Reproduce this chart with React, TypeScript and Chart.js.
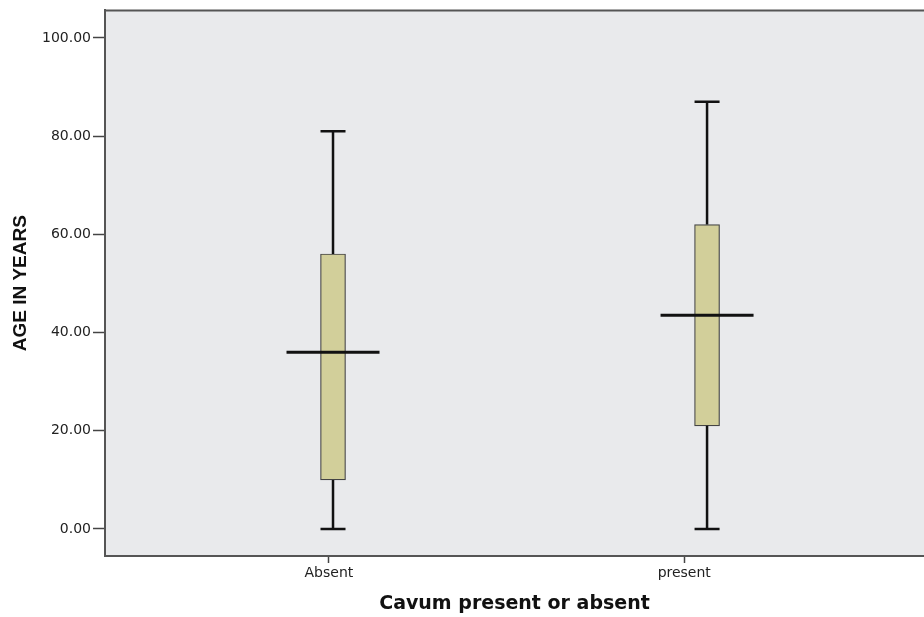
import React, { useEffect, useRef } from "react";
import { Chart, registerables } from "chart.js";

Chart.register(...registerables);

const categories = ["Absent", "present"];
const minVals = [0, 0];
const q1Vals = [10, 21];
const medianVals = [36, 43.5];
const q3Vals = [56, 62];
const maxVals = [81, 87];
const yTickValues = [0, 20, 40, 60, 80, 100];
const categoryTickValues = [0.989, 1.939];

const boxPlugin = {
  id: "boxExtras",
  beforeDraw(chart: any) {
    const { ctx, chartArea } = chart;
    ctx.save();
    ctx.fillStyle = "#e9eaec";
    ctx.fillRect(chartArea.left, chartArea.top, chartArea.right - chartArea.left, chartArea.bottom - chartArea.top);
    ctx.strokeStyle = "#555";
    ctx.lineWidth = 2;
    ctx.beginPath();
    ctx.moveTo(chartArea.left, chartArea.top);
    ctx.lineTo(chartArea.right, chartArea.top);
    ctx.stroke();
    ctx.restore();
  },
  afterDatasetsDraw(chart: any) {
    const { ctx } = chart;
    const xs = chart.scales.x;
    const ys = chart.scales.y;
    ctx.save();
    ctx.strokeStyle = "#111";
    categories.forEach((_, i) => {
      const cx = xs.getPixelForValue(i + 1);
      const yMin = ys.getPixelForValue(minVals[i]);
      const yQ1 = ys.getPixelForValue(q1Vals[i]);
      const yQ3 = ys.getPixelForValue(q3Vals[i]);
      const yMax = ys.getPixelForValue(maxVals[i]);
      const yMed = ys.getPixelForValue(medianVals[i]);
      ctx.lineWidth = 2.5;
      ctx.beginPath();
      ctx.moveTo(cx, yMin);
      ctx.lineTo(cx, yQ1);
      ctx.moveTo(cx, yQ3);
      ctx.lineTo(cx, yMax);
      ctx.moveTo(cx - 12.5, yMin);
      ctx.lineTo(cx + 12.5, yMin);
      ctx.moveTo(cx - 12.5, yMax);
      ctx.lineTo(cx + 12.5, yMax);
      ctx.stroke();
      ctx.lineWidth = 3;
      ctx.beginPath();
      ctx.moveTo(cx - 46.5, yMed);
      ctx.lineTo(cx + 46.5, yMed);
      ctx.stroke();
    });
    ctx.restore();
  },
};

export default function App() {
  const ref = useRef<HTMLCanvasElement>(null);
  useEffect(() => {
    if (!ref.current) return;
    const chart = new Chart(ref.current, {
      type: "bar",
      data: {
        datasets: [
          {
            data: categories.map((_, i) => ({ x: i + 1, y: [q1Vals[i], q3Vals[i]] })) as any,
            backgroundColor: "#d2cf9a",
            borderColor: "#444",
            borderWidth: 1.2,
            borderSkipped: false,
            barThickness: 25,
            grouped: false,
          },
        ],
      },
      options: {
        animation: false,
        responsive: true,
        maintainAspectRatio: false,
        layout: { padding: { left: 0, right: 0, top: 10, bottom: 0 } },
        plugins: { legend: { display: false }, tooltip: { enabled: false } },
        scales: {
          x: {
            type: "linear",
            min: 0.3904,
            max: 2.58,
            offset: false,
            afterFit(scale: any) {
              scale.height = 61;
            },
            afterBuildTicks(scale: any) {
              scale.ticks = categoryTickValues.map((v) => ({ value: v }));
            },
            ticks: {
              callback: (_v: any, i: number) => categories[i],
              color: "#222",
              font: { family: "DejaVu Sans", size: 14 },
              padding: 2,
              autoSkip: false,
              maxRotation: 0,
            },
            grid: { offset: false, drawOnChartArea: false, drawTicks: true, tickLength: 7, tickColor: "#444", tickWidth: 1.5 },
            border: { display: true, color: "#555", width: 2 },
            title: {
              display: true,
              text: "Cavum present or absent",
              color: "#111",
              font: { family: "DejaVu Sans", size: 19, weight: "bold" },
              padding: { top: 0, bottom: 2 },
            },
          },
          y: {
            min: -5.5,
            max: 105.6,
            afterFit(scale: any) {
              scale.width = 105;
            },
            afterBuildTicks(scale: any) {
              scale.ticks = yTickValues.map((v) => ({ value: v }));
            },
            ticks: {
              callback: (v: any) => Number(v).toFixed(2),
              color: "#222",
              font: { family: "DejaVu Sans", size: 14 },
              padding: 2,
            },
            grid: { drawOnChartArea: false, drawTicks: true, tickLength: 12, tickColor: "#444", tickWidth: 1.5 },
            border: { display: true, color: "#555", width: 2 },
            title: {
              display: true,
              text: "AGE IN YEARS",
              color: "#111",
              font: { family: "Liberation Sans", size: 19, weight: "bold" },
              padding: { top: 9, bottom: 0 },
            },
          },
        },
      },
      plugins: [boxPlugin],
    });
    return () => chart.destroy();
  }, []);
  return (
    <div style={{ position: "fixed", left: 0, top: 0, width: 924, height: 617, background: "#fff" }}>
      <canvas ref={ref} />
    </div>
  );
}
